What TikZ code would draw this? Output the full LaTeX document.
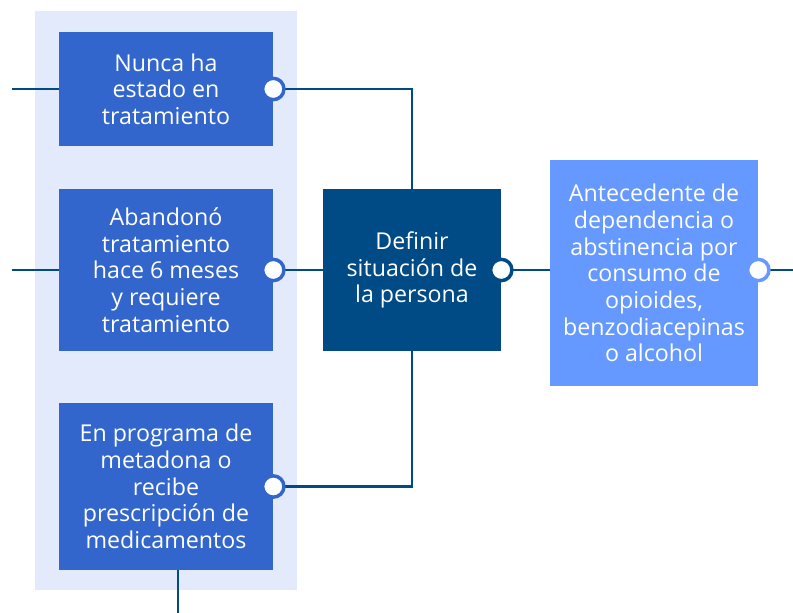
\documentclass[tikz,border=0pt]{standalone}
\usepackage{fontspec}
\setmainfont{Open Sans}
\definecolor{panel}{HTML}{E2EAFB}
\definecolor{midblue}{HTML}{3366CC}
\definecolor{navy}{HTML}{004A85}
\definecolor{skyblue}{HTML}{6699FF}

\begin{document}
\begin{tikzpicture}[x=0.75pt,y=-0.75pt,
  box/.style={rectangle, fill=midblue, text=white, align=center, inner sep=0pt,
    font=\fontsize{17.4}{20}\selectfont},
  dot/.style={circle, fill=white, draw=#1, line width=2.6pt, minimum size=16pt, inner sep=0pt},
  link/.style={draw=navy, line width=1.9pt}]
  \useasboundingbox (0,0) rectangle (793,613);
  \fill[panel] (35,11) rectangle (297,590);

  % options on the left
  \node[box, minimum width=160.5pt, minimum height=85.5pt] (nunca) at (166,89)
    {Nunca ha\\estado en\\tratamiento};
  \node[box, minimum width=160.5pt, minimum height=121.5pt] (abandono) at (166,270)
    {Abandonó\\tratamiento\\hace 6 meses\\y requiere\\tratamiento};
  \node[box, minimum width=160.5pt, minimum height=125.25pt] (metadona) at (166,486.5)
    {En programa de\\metadona o\\recibe\\prescripción de\\medicamentos};

  % decision and condition
  \node[box, fill=navy, minimum width=133.5pt, minimum height=121.5pt] (definir) at (412,270)
    {Definir\\situación de\\la persona};
  \node[box, fill=skyblue, minimum width=156pt, minimum height=169.5pt] (antecedente) at (654,273)
    {Antecedente de\\dependencia o\\abstinencia por\\consumo de\\opioides,\\benzodiacepinas\\o alcohol};

  % free ends
  \coordinate (in1) at (12,89);
  \coordinate (in2) at (12,270);
  \coordinate (out) at (793,270);
  \coordinate (down) at (178,613);

  % connectors
  \draw[link] (in1) -- (nunca.west);
  \draw[link] (in2) -- (abandono.west);
  \draw[link] (nunca.east) -| (definir.north);
  \draw[link] (abandono.east) -- (definir.west);
  \draw[link] (metadona.east) -| (definir.south);
  \draw[link] (definir.east) -- (definir.east -| antecedente.west);
  \draw[link] (antecedente.east |- out) -- (out);
  \draw[link] (metadona.south -| down) -- (down);

  % ports
  \node[dot=midblue] (p1) at (nunca.east) {};
  \node[dot=midblue] (p2) at (abandono.east) {};
  \node[dot=midblue] (p3) at (metadona.east) {};
  \node[dot=navy] (p4) at (definir.east) {};
  \node[dot=skyblue] (p5) at (antecedente.east |- out) {};
\end{tikzpicture}
\end{document}
